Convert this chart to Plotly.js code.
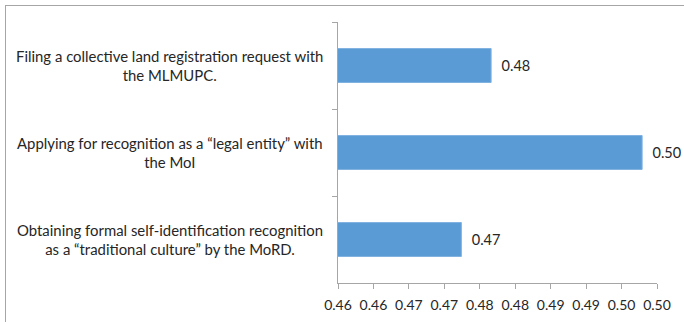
<!DOCTYPE html>
<html>
<head>
<meta charset="utf-8">
<script src="https://cdn.plot.ly/plotly-3.0.1.min.js"></script>
<style>
  html, body { margin: 0; padding: 0; background: #fff; }
  #wrap { position: relative; width: 684px; height: 322px; overflow: hidden; }
  #frame { position: absolute; left: 5px; top: 5px; width: 700px; height: 340px;
           border-left: 1.5px solid #a6a6a6; border-top: 1.5px solid #a6a6a6; pointer-events: none; }
  #chart { position: absolute; left: 0; top: 0; width: 684px; height: 322px; }
</style>
</head>
<body>
<div id="wrap">
  <div id="chart"></div>
  <div id="frame"></div>
</div>
<script>
// Registration routes, listed top to bottom
const categories = [
  "Filing a collective land registration request with<br>the MLMUPC.",
  "Applying for recognition as a \u201clegal entity\u201d with<br>the MoI",
  "Obtaining formal self-identification recognition<br>as a \u201ctraditional culture\u201d by the MoRD."
];
const values = [0.4766, 0.4979, 0.4724];

// Value axis ticks (labels rounded to two decimals)
const tickVals = [0.455, 0.460, 0.465, 0.470, 0.475, 0.480, 0.485, 0.490, 0.495, 0.500];
const tickLabels = ["0.46", "0.46", "0.47", "0.47", "0.48", "0.48", "0.49", "0.49", "0.50", "0.50"];

const textColor = "#262626";
const fontFamily = "Lato, Liberation Sans, Arial, sans-serif";

const trace = {
  type: "bar",
  orientation: "h",
  y: categories,
  x: values,
  marker: { color: "#5b9bd5", line: { color: "#7fb1e0", width: 1 } },
  texttemplate: "\u00a0\u00a0%{x:.2f}",
  textposition: "outside",
  textfont: { family: fontFamily, size: 14.5, color: textColor },
  cliponaxis: false,
  hoverinfo: "skip"
};

// Category labels are centred multi-line text beside each bar
const labelAnnotations = categories.map(c => ({
  xref: "paper", yref: "y",
  x: -0.527, y: c,
  xanchor: "center", yanchor: "middle",
  text: c, showarrow: false, align: "center",
  font: { family: fontFamily, size: 14.9, color: textColor }
}));

const layout = {
  width: 684, height: 322,
  margin: { l: 338, r: 27, t: 22, b: 39, pad: 0 },
  paper_bgcolor: "#ffffff", plot_bgcolor: "#ffffff",
  showlegend: false,
  bargap: 0.61,
  xaxis: {
    range: [0.455, 0.5],
    tickmode: "array", tickvals: tickVals, ticktext: tickLabels,
    showgrid: false, zeroline: false,
    showline: true, linecolor: "#a6a6a6", linewidth: 1,
    ticks: "outside", ticklen: 5, tickcolor: "#a6a6a6",
    ticklabelstandoff: 4,
    tickfont: { family: fontFamily, size: 14, color: textColor },
    fixedrange: true
  },
  yaxis: {
    type: "category",
    autorange: "reversed",
    showticklabels: false,
    showgrid: false, zeroline: false,
    showline: true, linecolor: "#a6a6a6", linewidth: 1,
    ticks: "outside", ticklen: 5, tickcolor: "#a6a6a6",
    tickson: "boundaries",
    fixedrange: true
  },
  annotations: labelAnnotations
};

Plotly.newPlot("chart", [trace], layout, { staticPlot: true, displayModeBar: false });
</script>
</body>
</html>
